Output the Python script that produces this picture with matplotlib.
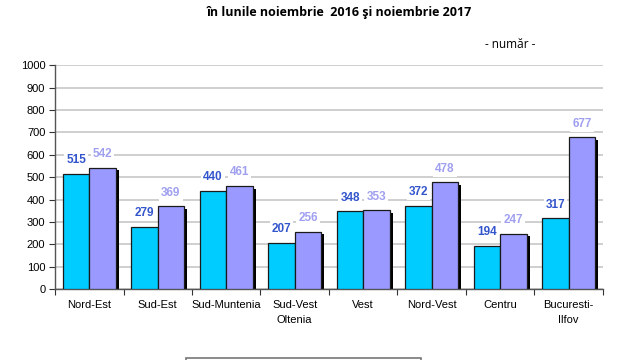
import numpy as np
import matplotlib.pyplot as plt
from matplotlib.patches import Rectangle

regions = ['Nord-Est', 'Sud-Est', 'Sud-Muntenia', 'Sud-Vest\nOltenia', 'Vest',
           'Nord-Vest', 'Centru', 'Bucuresti-\nIlfov']
nov_2016 = [515, 279, 440, 207, 348, 372, 194, 317]
nov_2017 = [542, 369, 461, 256, 353, 478, 247, 677]
yticks = list(range(0, 1001, 100))

plt.rcParams['font.family'] = ['Liberation Sans', 'DejaVu Sans']

fig = plt.figure(figsize=(6.4, 3.6), dpi=100)
ax = fig.add_axes([0.086, 0.197, 0.856, 0.622])

x = np.arange(len(regions))
w = 0.385
c16, c17 = '#00CCFF', '#9999FF'

for xs, vals, col in [(x - w / 2, nov_2016, c16), (x + w / 2, nov_2017, c17)]:
    # black drop shadow on the right of each bar
    ax.bar(xs + 0.045, np.array(vals) - 12, w, color='black', zorder=2)
    ax.bar(xs, vals, w, color=col, edgecolor='#1a1a1a', linewidth=0.9, zorder=3)

for xi, a, b in zip(x, nov_2016, nov_2017):
    ax.text(xi - w / 2, a + 60, str(a), ha='center', va='center', fontsize=8.5,
            fontweight='bold', color='#3355CC', zorder=4,
            bbox=dict(facecolor='white', edgecolor='none', pad=1.5))
    ax.text(xi + w / 2, b + 60, str(b), ha='center', va='center', fontsize=8.5,
            fontweight='bold', color='#A0A0F0', zorder=4,
            bbox=dict(facecolor='white', edgecolor='none', pad=1.5))

ax.set_xlim(-0.5, len(regions) - 0.5)
ax.set_ylim(0, 1000)
ax.set_yticks(yticks)
ax.tick_params(axis='y', labelsize=8, length=4, width=0.8, color='#333333', pad=3)
ax.set_xticks(x)
ax.set_xticklabels(regions, fontsize=8, linespacing=1.6)
ax.tick_params(axis='x', length=0, pad=8)
ax.set_xticks(np.arange(len(regions) + 1) - 0.5, minor=True)
ax.tick_params(axis='x', which='minor', length=4, width=0.8, color='#333333')
ax.yaxis.grid(True, color='#CCCCCC', linewidth=1.3, zorder=0)
ax.set_axisbelow(True)
for s in ['top', 'right']:
    ax.spines[s].set_visible(False)
for s in ['left', 'bottom']:
    ax.spines[s].set_color('#555555')
    ax.spines[s].set_linewidth(1.0)

fig.text(0.53, 0.965, 'în lunile noiembrie  2016 şi noiembrie 2017', ha='center',
         va='center', fontsize=9, fontweight='bold', family=['Open Sans', 'DejaVu Sans'])
fig.text(0.797, 0.875, '- număr -', ha='center', va='center', fontsize=8.5,
         family=['Open Sans', 'DejaVu Sans'])

# legend frame, cut off at the bottom edge
fig.patches.append(Rectangle((186 / 640, -0.05), 235 / 640, 0.056,
                             transform=fig.transFigure, fill=False,
                             edgecolor='#777777', linewidth=1.2))

fig.savefig('out.png', dpi=100)
